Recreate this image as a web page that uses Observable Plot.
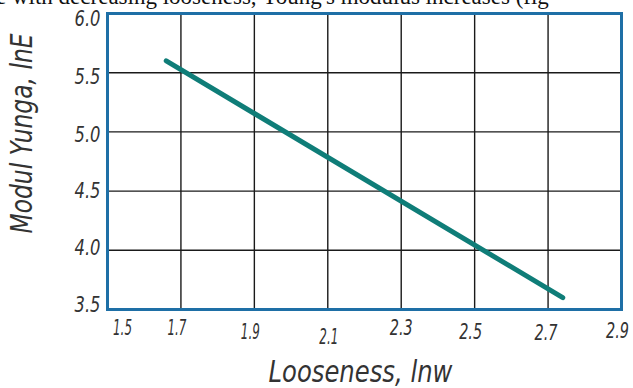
<!DOCTYPE html>
<html>
<head>
<meta charset="utf-8">
<script src="https://cdn.jsdelivr.net/npm/d3@7"></script>
<script src="https://cdn.jsdelivr.net/npm/@observablehq/plot@0.6"></script>
<style>
  html, body { margin: 0; padding: 0; background: #fff; }
  #wrap { position: relative; width: 633px; height: 388px; overflow: hidden; }
  #cap { position: absolute; left: -4px; top: -16px; white-space: nowrap;
         font-family: "Liberation Serif", "Times New Roman", serif; font-size: 23px; color: #111; }
  #chart { position: absolute; left: 0; top: 0; }
</style>
</head>
<body>
<div id="wrap">
  <div id="chart"></div>
  <div id="cap">e with decreasing looseness, Young's modulus increases (fig</div>
</div>
<script>
// Data
const looseness = [1.66, 2.74];
const youngModulus = [5.6, 3.6];
const xTicks = [1.5, 1.7, 1.9, 2.1, 2.3, 2.5, 2.7, 2.9];
const xTickLabels = ["1.5", "1.7", "1.9", "2.1", "2.3", "2.5", "2.7", "2.9"];
const yTicks = [3.5, 4.0, 4.5, 5.0, 5.5, 6.0];
const yTickLabels = ["3.5", "4.0", "4.5", "5.0", "5.5", "6.0"];
const xTitle = "Looseness, lnw";
const yTitle = "Modul Yunga, lnE";

// styling offsets (hand-lettered label placement)
const xLabelDx = [15, -4, -4, 1, 0, -4, -2, -4];
const xLabelDy = [19, 19, 23, 28, 19, 23, 24, 22];
const yLabelDy = [-4, -2, 0, 3, 5, 6];

const line = looseness.map((x, i) => ({x, y: youngModulus[i]}));
const xt = xTicks.map((v, i) => ({v, label: xTickLabels[i], dx: xLabelDx[i], dy: xLabelDy[i]}));
const yt = yTicks.map((v, i) => ({v, label: yTickLabels[i], dy: yLabelDy[i]}));

const font = "'DejaVu Sans', sans-serif";
const ink = "#333";

const marks = [
  Plot.ruleX(xTicks.slice(1, -1), {y1: 3.5, y2: 6.0, stroke: "#1a1a1a", strokeWidth: 1.4}),
  Plot.ruleY(yTicks.slice(1, -1), {x1: 1.5, x2: 2.9, stroke: "#1a1a1a", strokeWidth: 1.4}),
  Plot.frame({stroke: "#1e6fa6", strokeWidth: 3}),
  Plot.line(line, {x: "x", y: "y", stroke: "#0f7d78", strokeWidth: 5, strokeLinecap: "round"}),
];
xt.forEach(d => marks.push(Plot.text([d], {x: "v", frameAnchor: "bottom", text: "label", dx: d.dx, dy: d.dy,
  fontSize: 21, fontStyle: "italic", fill: ink, fontFamily: font, lineAnchor: "middle"})));
yt.forEach(d => marks.push(Plot.text([d], {y: "v", frameAnchor: "left", text: "label", dx: -7, dy: d.dy,
  textAnchor: "end", fontSize: 21, fontStyle: "italic", fill: ink, fontFamily: font})));
marks.push(Plot.text([xTitle], {frameAnchor: "bottom", dx: -4, dy: 63, lineAnchor: "middle", textAnchor: "middle",
  fontSize: 30, fontStyle: "italic", fill: ink, fontFamily: font}));
marks.push(Plot.text([yTitle], {frameAnchor: "left", dx: -85, dy: -28, rotate: -90, lineAnchor: "middle", textAnchor: "middle",
  fontSize: 30, fontStyle: "italic", fill: ink, fontFamily: font}));

const chart = Plot.plot({
  width: 633,
  height: 388,
  marginLeft: 107,
  marginRight: 12,
  marginTop: 13,
  marginBottom: 79,
  x: {domain: [1.5, 2.9], axis: null},
  y: {domain: [3.5, 6.0], axis: null},
  style: {background: "transparent"},
  marks
});
// squeeze the lettering to the narrow drafting style of the original
d3.select(chart).selectAll("text").each(function() {
  const t = this.textContent;
  let len = null;
  if (xTickLabels.includes(t) && this.getAttribute("text-anchor") !== "end") len = t.includes("1") ? 19 : 23;
  else if (yTickLabels.includes(t)) len = 26;
  else if (t === xTitle) len = 184;
  else if (t === yTitle) len = 200;
  if (len) { this.setAttribute("textLength", len); this.setAttribute("lengthAdjust", "spacingAndGlyphs"); }
});
document.getElementById("chart").appendChild(chart);
</script>
</body>
</html>
